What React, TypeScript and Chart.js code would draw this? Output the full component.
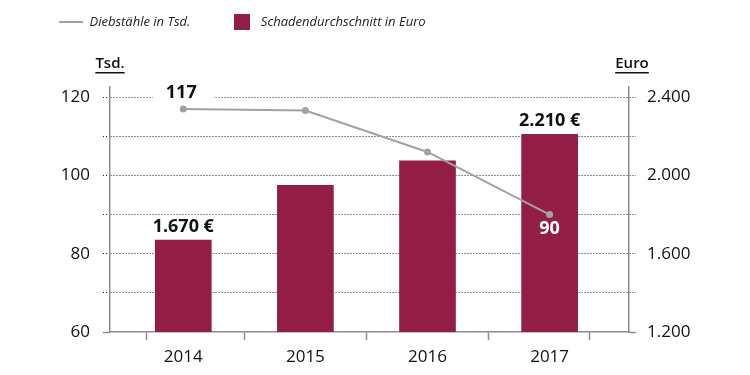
import React, { useEffect, useRef } from 'react';
import { Chart, registerables } from 'chart.js';

Chart.register(...registerables);

// ---- data ----
const years = [2014, 2015, 2016, 2017];
const thefts = [117, 116.6, 106, 90]; // Diebstähle in Tsd. (left axis)
const avgDamage = [1670, 1950, 2075, 2210]; // Schadendurchschnitt in Euro (right axis)
const leftTicks = [60, 70, 80, 90, 100, 110, 120];
const leftLabeled = [60, 80, 100, 120];
const rightTicks = [1200, 1400, 1600, 1800, 2000, 2200, 2400];
const rightLabeled = [1200, 1600, 2000, 2400];
const labeledIdx = [0, 3];
const legendLabels = ['Diebstähle in Tsd.', 'Schadendurchschnitt in Euro'];
const axisTitles = ['Tsd.', 'Euro'];

// ---- styles ----
const BAR = '#921e45';
const LINE = '#a2a2a2';
const GRID = '#1e1e1e';
const AXIS = '#8c8c8c';
const TEXT = '#111111';
const FONT = "'Open Sans', sans-serif";

const fmt = (v: number) => String(Math.round(v)).replace(/\B(?=(\d{3})+(?!\d))/g, '.');

const dataLabelPlugin = {
  id: 'dataLabels',
  afterDatasetsDraw(chart: any) {
    const ctx = chart.ctx;
    const lineMeta = chart.getDatasetMeta(0);
    const barMeta = chart.getDatasetMeta(1);
    ctx.save();
    ctx.font = `bold 18px ${FONT}`;
    ctx.textAlign = 'center';
    ctx.textBaseline = 'middle';
    labeledIdx.forEach((i, k) => {
      const p = lineMeta.data[i];
      const t = String(Math.round(thefts[i]));
      if (k === 0) {
        const w = ctx.measureText(t).width;
        ctx.fillStyle = '#ffffff';
        ctx.fillRect(p.x - w / 2 - 15, p.y - 26, w + 30, 20);
        ctx.fillStyle = TEXT;
        ctx.fillText(t, p.x - 2, p.y - 16);
      } else {
        ctx.fillStyle = '#ffffff';
        ctx.fillText(t, p.x, p.y + 14);
      }
      const b = barMeta.data[i];
      ctx.fillStyle = TEXT;
      ctx.fillText(fmt(avgDamage[i]) + ' €', b.x, b.y - 13);
    });
    ctx.restore();
  },
};

const axisTitlePlugin = {
  id: 'axisTitles',
  afterDraw(chart: any) {
    const { ctx, chartArea } = chart;
    ctx.save();
    ctx.font = `600 15px ${FONT}`;
    ctx.fillStyle = TEXT;
    ctx.textAlign = 'center';
    ctx.textBaseline = 'middle';
    const items: [string, number][] = [
      [axisTitles[0], chartArea.left],
      [axisTitles[1], chartArea.right + 3],
    ];
    const y = chartArea.top - 23;
    items.forEach(([t, x]) => {
      ctx.fillText(t, x, y);
      const w = ctx.measureText(t).width;
      ctx.fillRect(x - w / 2, y + 8, w, 1.5);
    });
    ctx.restore();
  },
};

export default function App() {
  const ref = useRef<HTMLCanvasElement | null>(null);

  useEffect(() => {
    if (!ref.current) return;
    const mk = (w: number, h: number, color: string) => {
      const c = document.createElement('canvas');
      c.width = w;
      c.height = h;
      const g = c.getContext('2d')!;
      g.fillStyle = color;
      g.fillRect(0, 0, w, h);
      return c;
    };
    const lineIcon = mk(24, 2, LINE);
    const boxIcon = mk(16, 16, BAR);

    Chart.defaults.font.family = FONT;

    const gridColor = (c: any) => (c.tick && c.tick.value === leftTicks[0] ? 'rgba(0,0,0,0)' : GRID);
    const gridColorR = (c: any) => (c.tick && c.tick.value === rightTicks[0] ? 'rgba(0,0,0,0)' : GRID);
    const tickColorL = (c: any) => (c.tick && c.tick.value === leftTicks[0] ? AXIS : GRID);
    const tickColorR = (c: any) => (c.tick && c.tick.value === rightTicks[0] ? AXIS : GRID);
    const tickDashL = (c: any) => (c.tick && c.tick.value === leftTicks[0] ? [] : [1, 2]);
    const tickDashR = (c: any) => (c.tick && c.tick.value === rightTicks[0] ? [] : [1, 2]);
    const tickWidthL = (c: any) => (c.tick && c.tick.value === leftTicks[0] ? 1.5 : 1);
    const tickWidthR = (c: any) => (c.tick && c.tick.value === rightTicks[0] ? 1.5 : 1);

    const chart = new Chart(ref.current, {
      type: 'bar',
      data: {
        datasets: [
          {
            type: 'line',
            label: legendLabels[0],
            data: years.map((x, i) => ({ x, y: thefts[i] })),
            yAxisID: 'y',
            xAxisID: 'x',
            borderColor: LINE,
            backgroundColor: LINE,
            borderWidth: 2,
            pointRadius: 3.5,
            pointBackgroundColor: LINE,
            pointBorderWidth: 0,
            tension: 0,
            order: 0,
          } as any,
          {
            type: 'bar',
            label: legendLabels[1],
            data: years.map((x, i) => ({ x, y: avgDamage[i] })),
            yAxisID: 'y1',
            xAxisID: 'x',
            backgroundColor: BAR,
            borderWidth: 0,
            barThickness: 56,
            order: 1,
          } as any,
        ],
      },
      options: {
        responsive: false,
        animation: false,
        events: [],
        layout: { padding: { left: 19, top: -24.5, right: 0, bottom: 0 } },
        plugins: {
          legend: {
            display: true,
            position: 'top',
            align: 'start',
            labels: {
              usePointStyle: true,
              pointStyleWidth: 24,
              padding: 40,
              color: '#222',
              font: { size: 13, style: 'italic', family: FONT },
              generateLabels: () => [
                {
                  text: legendLabels[0],
                  pointStyle: lineIcon as any,
                  fillStyle: LINE,
                  strokeStyle: LINE,
                  lineWidth: 0,
                  hidden: false,
                  datasetIndex: 0,
                  fontColor: '#222',
                },
                {
                  text: legendLabels[1],
                  pointStyle: boxIcon as any,
                  fillStyle: BAR,
                  strokeStyle: BAR,
                  lineWidth: 0,
                  hidden: false,
                  datasetIndex: 1,
                  fontColor: '#222',
                },
              ],
            },
          },
          title: {
            display: true,
            text: '',
            weight: 100,
            padding: { top: 0, bottom: 36.5 },
            font: { size: 10 },
          } as any,
          tooltip: { enabled: false },
        },
        scales: {
          x: {
            type: 'linear',
            min: 2013.4,
            max: 2017.65,
            offset: false,
            afterBuildTicks: (s: any) => {
              s.ticks = [2013.4, ...years, 2017.65].map((v) => ({ value: v }));
            },
            afterFit: (s: any) => {
              s.height = 43;
            },
            ticks: {
              autoSkip: false,
              maxRotation: 0,
              padding: 7,
              color: TEXT,
              font: { size: 17 },
              callback: (v: any) => (years.includes(Number(v)) ? String(v) : ''),
            },
            grid: {
              drawOnChartArea: false,
              drawTicks: true,
              tickLength: 8,
              color: AXIS,
              tickColor: AXIS,
              tickWidth: 1.5,
            },
            border: { display: true, color: AXIS, width: 1.5 },
          },
          y: {
            type: 'linear',
            position: 'left',
            min: 60,
            max: 122.6,
            afterBuildTicks: (s: any) => {
              s.ticks = leftTicks.map((v) => ({ value: v }));
            },
            afterFit: (s: any) => {
              s.width = 91;
            },
            ticks: {
              padding: 13,
              color: TEXT,
              font: { size: 17 },
              callback: (v: any) => (leftLabeled.includes(Number(v)) ? String(v) : ''),
            },
            grid: {
              drawOnChartArea: true,
              drawTicks: true,
              tickLength: 7,
              color: gridColor,
              lineWidth: 1,
              tickColor: tickColorL,
              tickWidth: tickWidthL,
              tickBorderDash: tickDashL,
            } as any,
            border: { display: true, color: AXIS, width: 1.5, dash: [1, 2] },
          },
          y1: {
            type: 'linear',
            position: 'right',
            min: 1200,
            max: 2452,
            afterBuildTicks: (s: any) => {
              s.ticks = rightTicks.map((v) => ({ value: v }));
            },
            afterFit: (s: any) => {
              s.width = 121;
            },
            ticks: {
              padding: 11,
              color: TEXT,
              font: { size: 17 },
              callback: (v: any) => (rightLabeled.includes(Number(v)) ? fmt(Number(v)) : ''),
            },
            grid: {
              drawOnChartArea: false,
              drawTicks: true,
              tickLength: 7,
              color: gridColorR,
              tickColor: tickColorR,
              tickWidth: tickWidthR,
              tickBorderDash: tickDashR,
            } as any,
            border: { display: true, color: AXIS, width: 1.5, dash: [1, 2] },
          },
        },
      } as any,
      plugins: [dataLabelPlugin, axisTitlePlugin],
    });
    return () => chart.destroy();
  }, []);

  return (
    <div style={{ position: 'absolute', left: 0, top: 0, width: 750, height: 375, background: '#fff' }}>
      <canvas ref={ref} width={750} height={375} style={{ display: 'block' }} />
    </div>
  );
}
